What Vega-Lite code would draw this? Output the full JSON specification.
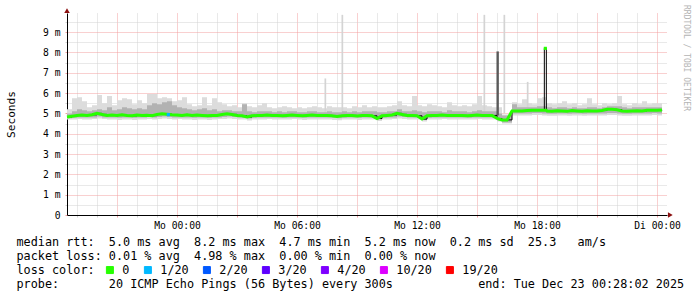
{
"$schema": "https://vega.github.io/schema/vega-lite/v6.json",
"width": 600, "height": 202,
"autosize": "none",
"padding": {"left": 67, "top": 13, "right": 30, "bottom": 82},
"background": "white",
"config": {"view": {"stroke": null}, "font": "DejaVu Sans Mono"},
"title": {"text": "RRDTOOL / TOBI OETIKER", "orient": "right", "anchor": "start", "frame": "group", "font": "DejaVu Sans Mono", "fontSize": 8, "fontWeight": "normal", "color": "#b4b4b4", "offset": -2, "dx": -8},
"resolve": {"axis": {"x": "independent", "y": "independent"}},
"datasets": {
"ping": [
{"t":"2025-12-21T18:30","m":4.82,"lo":4.7,"hi":5.2,"c":4.76,"d":5.0,"loss":"0"},
{"t":"2025-12-21T18:45","m":4.86,"lo":4.7,"hi":5.75,"c":4.78,"d":5.1,"loss":"0"},
{"t":"2025-12-21T19:00","m":4.9,"lo":4.72,"hi":5.8,"c":4.8,"d":5.2,"loss":"0"},
{"t":"2025-12-21T19:15","m":4.92,"lo":4.7,"hi":5.6,"c":4.8,"d":5.15,"loss":"0"},
{"t":"2025-12-21T19:30","m":4.9,"lo":4.7,"hi":5.3,"c":4.8,"d":5.1,"loss":"0"},
{"t":"2025-12-21T19:45","m":4.93,"lo":4.72,"hi":5.4,"c":4.8,"d":5.15,"loss":"0"},
{"t":"2025-12-21T20:00","m":5.0,"lo":4.75,"hi":5.9,"c":4.85,"d":5.2,"loss":"0"},
{"t":"2025-12-21T20:15","m":4.95,"lo":4.72,"hi":5.5,"c":4.8,"d":5.15,"loss":"0"},
{"t":"2025-12-21T20:30","m":4.9,"lo":4.7,"hi":5.85,"c":4.8,"d":5.3,"loss":"0"},
{"t":"2025-12-21T20:45","m":4.92,"lo":4.7,"hi":5.4,"c":4.8,"d":5.15,"loss":"0"},
{"t":"2025-12-21T21:00","m":4.9,"lo":4.68,"hi":5.65,"c":4.78,"d":5.2,"loss":"0"},
{"t":"2025-12-21T21:15","m":4.93,"lo":4.7,"hi":5.75,"c":4.8,"d":5.3,"loss":"0"},
{"t":"2025-12-21T21:30","m":4.9,"lo":4.7,"hi":5.7,"c":4.8,"d":5.25,"loss":"0"},
{"t":"2025-12-21T21:45","m":4.88,"lo":4.68,"hi":5.45,"c":4.78,"d":5.2,"loss":"0"},
{"t":"2025-12-21T22:00","m":4.92,"lo":4.7,"hi":5.65,"c":4.8,"d":5.25,"loss":"0"},
{"t":"2025-12-21T22:15","m":4.9,"lo":4.7,"hi":5.5,"c":4.8,"d":5.2,"loss":"0"},
{"t":"2025-12-21T22:30","m":4.91,"lo":4.72,"hi":5.95,"c":4.82,"d":5.4,"loss":"0"},
{"t":"2025-12-21T22:45","m":4.89,"lo":4.7,"hi":5.95,"c":4.8,"d":5.5,"loss":"0"},
{"t":"2025-12-21T23:00","m":4.95,"lo":4.72,"hi":5.75,"c":4.82,"d":5.45,"loss":"0"},
{"t":"2025-12-21T23:15","m":4.98,"lo":4.75,"hi":5.8,"c":4.85,"d":5.55,"loss":"0"},
{"t":"2025-12-21T23:30","m":4.96,"lo":4.72,"hi":5.75,"c":4.82,"d":5.6,"loss":"0"},
{"t":"2025-12-21T23:45","m":4.93,"lo":4.7,"hi":5.6,"c":4.8,"d":5.4,"loss":"0"},
{"t":"2025-12-22T00:00","m":4.92,"lo":4.72,"hi":5.65,"c":4.8,"d":5.3,"loss":"0"},
{"t":"2025-12-22T00:15","m":4.9,"lo":4.7,"hi":5.8,"c":4.8,"d":5.25,"loss":"0"},
{"t":"2025-12-22T00:30","m":4.93,"lo":4.7,"hi":5.45,"c":4.8,"d":5.2,"loss":"0"},
{"t":"2025-12-22T00:45","m":4.9,"lo":4.68,"hi":5.35,"c":4.78,"d":5.15,"loss":"0"},
{"t":"2025-12-22T01:00","m":4.92,"lo":4.7,"hi":5.4,"c":4.8,"d":5.2,"loss":"0"},
{"t":"2025-12-22T01:15","m":4.9,"lo":4.7,"hi":5.8,"c":4.8,"d":5.25,"loss":"0"},
{"t":"2025-12-22T01:30","m":4.88,"lo":4.68,"hi":5.4,"c":4.78,"d":5.15,"loss":"0"},
{"t":"2025-12-22T01:45","m":4.9,"lo":4.7,"hi":5.75,"c":4.8,"d":5.2,"loss":"0"},
{"t":"2025-12-22T02:00","m":4.9,"lo":4.72,"hi":5.55,"c":4.8,"d":5.1,"loss":"0"},
{"t":"2025-12-22T02:15","m":4.95,"lo":4.72,"hi":5.45,"c":4.82,"d":5.15,"loss":"0"},
{"t":"2025-12-22T02:30","m":4.98,"lo":4.75,"hi":5.35,"c":4.85,"d":5.15,"loss":"0"},
{"t":"2025-12-22T02:45","m":4.95,"lo":4.72,"hi":5.4,"c":4.82,"d":5.1,"loss":"0"},
{"t":"2025-12-22T03:00","m":4.9,"lo":4.7,"hi":5.3,"c":4.8,"d":5.1,"loss":"0"},
{"t":"2025-12-22T03:15","m":4.88,"lo":4.7,"hi":5.5,"c":4.78,"d":5.45,"loss":"0"},
{"t":"2025-12-22T03:30","m":4.82,"lo":4.65,"hi":5.35,"c":4.75,"d":5.1,"loss":"0"},
{"t":"2025-12-22T03:45","m":4.88,"lo":4.7,"hi":5.3,"c":4.78,"d":5.05,"loss":"0"},
{"t":"2025-12-22T04:00","m":4.9,"lo":4.7,"hi":5.4,"c":4.8,"d":5.1,"loss":"0"},
{"t":"2025-12-22T04:15","m":4.9,"lo":4.7,"hi":5.5,"c":4.8,"d":5.1,"loss":"0"},
{"t":"2025-12-22T04:30","m":4.92,"lo":4.72,"hi":5.3,"c":4.8,"d":5.1,"loss":"0"},
{"t":"2025-12-22T04:45","m":4.9,"lo":4.7,"hi":5.25,"c":4.8,"d":5.05,"loss":"0"},
{"t":"2025-12-22T05:00","m":4.9,"lo":4.7,"hi":5.3,"c":4.8,"d":5.1,"loss":"0"},
{"t":"2025-12-22T05:15","m":4.88,"lo":4.7,"hi":5.35,"c":4.78,"d":5.05,"loss":"0"},
{"t":"2025-12-22T05:30","m":4.9,"lo":4.7,"hi":5.3,"c":4.8,"d":5.1,"loss":"0"},
{"t":"2025-12-22T05:45","m":4.92,"lo":4.72,"hi":5.25,"c":4.8,"d":5.1,"loss":"0"},
{"t":"2025-12-22T06:00","m":4.9,"lo":4.7,"hi":5.3,"c":4.8,"d":5.05,"loss":"0"},
{"t":"2025-12-22T06:15","m":4.88,"lo":4.68,"hi":5.25,"c":4.78,"d":5.05,"loss":"0"},
{"t":"2025-12-22T06:30","m":4.9,"lo":4.7,"hi":5.3,"c":4.8,"d":5.1,"loss":"0"},
{"t":"2025-12-22T06:45","m":4.92,"lo":4.7,"hi":5.35,"c":4.8,"d":5.1,"loss":"0"},
{"t":"2025-12-22T07:00","m":4.9,"lo":4.7,"hi":5.3,"c":4.8,"d":5.05,"loss":"0"},
{"t":"2025-12-22T07:15","m":4.9,"lo":4.7,"hi":5.25,"c":4.8,"d":5.05,"loss":"0"},
{"t":"2025-12-22T07:30","m":4.9,"lo":4.7,"hi":5.35,"c":4.8,"d":5.1,"loss":"0"},
{"t":"2025-12-22T07:45","m":4.88,"lo":4.68,"hi":5.3,"c":4.78,"d":5.05,"loss":"0"},
{"t":"2025-12-22T08:00","m":4.85,"lo":4.66,"hi":5.3,"c":4.76,"d":5.05,"loss":"0"},
{"t":"2025-12-22T08:15","m":4.88,"lo":4.7,"hi":5.3,"c":4.78,"d":5.1,"loss":"0"},
{"t":"2025-12-22T08:30","m":4.9,"lo":4.7,"hi":5.25,"c":4.8,"d":5.05,"loss":"0"},
{"t":"2025-12-22T08:45","m":4.9,"lo":4.7,"hi":5.35,"c":4.8,"d":5.1,"loss":"0"},
{"t":"2025-12-22T09:00","m":4.87,"lo":4.68,"hi":5.3,"c":4.78,"d":5.05,"loss":"0"},
{"t":"2025-12-22T09:15","m":4.9,"lo":4.7,"hi":5.4,"c":4.8,"d":5.1,"loss":"0"},
{"t":"2025-12-22T09:30","m":4.9,"lo":4.7,"hi":5.3,"c":4.8,"d":5.1,"loss":"0"},
{"t":"2025-12-22T09:45","m":4.88,"lo":4.7,"hi":5.35,"c":4.78,"d":5.1,"loss":"0"},
{"t":"2025-12-22T10:00","m":4.75,"lo":4.62,"hi":5.3,"c":4.7,"d":5.05,"loss":"0"},
{"t":"2025-12-22T10:15","m":4.88,"lo":4.7,"hi":5.3,"c":4.78,"d":5.05,"loss":"0"},
{"t":"2025-12-22T10:30","m":4.9,"lo":4.7,"hi":5.35,"c":4.8,"d":5.1,"loss":"0"},
{"t":"2025-12-22T10:45","m":4.92,"lo":4.72,"hi":5.4,"c":4.8,"d":5.1,"loss":"0"},
{"t":"2025-12-22T11:00","m":5.0,"lo":4.75,"hi":5.6,"c":4.85,"d":5.2,"loss":"0"},
{"t":"2025-12-22T11:15","m":4.95,"lo":4.72,"hi":5.4,"c":4.82,"d":5.1,"loss":"0"},
{"t":"2025-12-22T11:30","m":4.9,"lo":4.7,"hi":5.35,"c":4.8,"d":5.1,"loss":"0"},
{"t":"2025-12-22T11:45","m":4.9,"lo":4.7,"hi":5.85,"c":4.8,"d":5.15,"loss":"0"},
{"t":"2025-12-22T12:00","m":4.88,"lo":4.7,"hi":5.4,"c":4.78,"d":5.1,"loss":"0"},
{"t":"2025-12-22T12:15","m":4.72,"lo":4.6,"hi":5.35,"c":4.68,"d":5.05,"loss":"0"},
{"t":"2025-12-22T12:30","m":4.88,"lo":4.7,"hi":5.45,"c":4.78,"d":5.1,"loss":"0"},
{"t":"2025-12-22T12:45","m":4.9,"lo":4.7,"hi":5.4,"c":4.8,"d":5.1,"loss":"0"},
{"t":"2025-12-22T13:00","m":4.9,"lo":4.7,"hi":5.35,"c":4.8,"d":5.1,"loss":"0"},
{"t":"2025-12-22T13:15","m":4.92,"lo":4.72,"hi":5.3,"c":4.8,"d":5.05,"loss":"0"},
{"t":"2025-12-22T13:30","m":4.9,"lo":4.7,"hi":5.55,"c":4.8,"d":5.15,"loss":"0"},
{"t":"2025-12-22T13:45","m":4.9,"lo":4.7,"hi":5.4,"c":4.8,"d":5.1,"loss":"0"},
{"t":"2025-12-22T14:00","m":4.9,"lo":4.7,"hi":5.35,"c":4.8,"d":5.1,"loss":"0"},
{"t":"2025-12-22T14:15","m":4.9,"lo":4.7,"hi":5.4,"c":4.8,"d":5.1,"loss":"0"},
{"t":"2025-12-22T14:30","m":4.88,"lo":4.7,"hi":5.35,"c":4.78,"d":5.05,"loss":"0"},
{"t":"2025-12-22T14:45","m":4.9,"lo":4.7,"hi":5.45,"c":4.8,"d":5.1,"loss":"0"},
{"t":"2025-12-22T15:00","m":4.92,"lo":4.72,"hi":5.85,"c":4.8,"d":5.15,"loss":"0"},
{"t":"2025-12-22T15:15","m":4.9,"lo":4.7,"hi":5.4,"c":4.8,"d":5.1,"loss":"0"},
{"t":"2025-12-22T15:30","m":4.9,"lo":4.7,"hi":5.35,"c":4.8,"d":5.1,"loss":"0"},
{"t":"2025-12-22T15:45","m":4.9,"lo":4.7,"hi":5.3,"c":4.8,"d":5.1,"loss":"0"},
{"t":"2025-12-22T16:00","m":4.75,"lo":4.6,"hi":5.3,"c":4.65,"d":5.0,"loss":"0"},
{"t":"2025-12-22T16:15","m":4.68,"lo":4.5,"hi":4.95,"c":4.55,"d":4.9,"loss":"0"},
{"t":"2025-12-22T16:30","m":4.68,"lo":4.5,"hi":4.95,"c":4.55,"d":4.9,"loss":"0"},
{"t":"2025-12-22T16:45","m":5.12,"lo":4.9,"hi":5.55,"c":5.0,"d":5.45,"loss":"0"},
{"t":"2025-12-22T17:00","m":5.12,"lo":4.9,"hi":5.45,"c":5.0,"d":5.3,"loss":"0"},
{"t":"2025-12-22T17:15","m":5.12,"lo":4.9,"hi":5.7,"c":5.0,"d":5.3,"loss":"0"},
{"t":"2025-12-22T17:30","m":5.14,"lo":4.9,"hi":5.5,"c":5.0,"d":5.3,"loss":"0"},
{"t":"2025-12-22T17:45","m":5.16,"lo":4.92,"hi":5.45,"c":5.02,"d":5.3,"loss":"0"},
{"t":"2025-12-22T18:00","m":5.16,"lo":4.92,"hi":5.75,"c":5.02,"d":5.35,"loss":"0"},
{"t":"2025-12-22T18:15","m":5.15,"lo":4.9,"hi":5.8,"c":5.0,"d":5.35,"loss":"0"},
{"t":"2025-12-22T18:22","m":8.2,"lo":4.9,"hi":5.8,"c":5.0,"d":5.35,"loss":"0"},
{"t":"2025-12-22T18:28","m":5.15,"lo":4.9,"hi":5.5,"c":5.0,"d":5.3,"loss":"0"},
{"t":"2025-12-22T18:30","m":5.12,"lo":4.88,"hi":5.5,"c":4.98,"d":5.3,"loss":"0"},
{"t":"2025-12-22T18:45","m":5.1,"lo":4.88,"hi":5.45,"c":4.98,"d":5.25,"loss":"0"},
{"t":"2025-12-22T19:00","m":5.13,"lo":4.9,"hi":5.5,"c":5.0,"d":5.3,"loss":"0"},
{"t":"2025-12-22T19:15","m":5.12,"lo":4.9,"hi":5.6,"c":5.0,"d":5.3,"loss":"0"},
{"t":"2025-12-22T19:30","m":5.1,"lo":4.88,"hi":5.45,"c":4.98,"d":5.25,"loss":"0"},
{"t":"2025-12-22T19:45","m":5.14,"lo":4.9,"hi":5.5,"c":5.0,"d":5.3,"loss":"0"},
{"t":"2025-12-22T20:00","m":5.12,"lo":4.9,"hi":5.4,"c":5.0,"d":5.25,"loss":"0"},
{"t":"2025-12-22T20:15","m":5.1,"lo":4.88,"hi":5.45,"c":4.98,"d":5.25,"loss":"0"},
{"t":"2025-12-22T20:30","m":5.13,"lo":4.9,"hi":5.75,"c":5.0,"d":5.3,"loss":"0"},
{"t":"2025-12-22T20:45","m":5.12,"lo":4.9,"hi":5.45,"c":5.0,"d":5.3,"loss":"0"},
{"t":"2025-12-22T21:00","m":5.12,"lo":4.9,"hi":5.4,"c":5.0,"d":5.25,"loss":"0"},
{"t":"2025-12-22T21:15","m":5.14,"lo":4.9,"hi":5.5,"c":5.0,"d":5.3,"loss":"0"},
{"t":"2025-12-22T21:30","m":5.2,"lo":4.92,"hi":5.45,"c":5.02,"d":5.35,"loss":"0"},
{"t":"2025-12-22T21:45","m":5.2,"lo":4.92,"hi":5.5,"c":5.02,"d":5.35,"loss":"0"},
{"t":"2025-12-22T22:00","m":5.18,"lo":4.9,"hi":5.85,"c":5.0,"d":5.35,"loss":"0"},
{"t":"2025-12-22T22:15","m":5.12,"lo":4.88,"hi":5.45,"c":4.98,"d":5.3,"loss":"0"},
{"t":"2025-12-22T22:30","m":5.1,"lo":4.88,"hi":5.4,"c":4.98,"d":5.25,"loss":"0"},
{"t":"2025-12-22T22:45","m":5.12,"lo":4.9,"hi":5.5,"c":5.0,"d":5.3,"loss":"0"},
{"t":"2025-12-22T23:00","m":5.13,"lo":4.9,"hi":5.45,"c":5.0,"d":5.3,"loss":"0"},
{"t":"2025-12-22T23:15","m":5.12,"lo":4.9,"hi":5.6,"c":5.0,"d":5.3,"loss":"0"},
{"t":"2025-12-22T23:30","m":5.15,"lo":4.9,"hi":5.45,"c":5.0,"d":5.3,"loss":"0"},
{"t":"2025-12-22T23:45","m":5.16,"lo":4.92,"hi":5.5,"c":5.02,"d":5.3,"loss":"0"},
{"t":"2025-12-23T00:00","m":5.15,"lo":4.9,"hi":5.5,"c":5.0,"d":5.3,"loss":"0"},
{"t":"2025-12-23T00:15","m":5.17,"lo":4.92,"hi":5.45,"c":5.02,"d":5.3,"loss":"0"}
],
"spikes": [
{"t":"2025-12-22T07:25","top":6.72,"base":5.0,"shade":"light"},
{"t":"2025-12-22T08:16","top":9.85,"base":5.0,"shade":"light"},
{"t":"2025-12-22T15:22","top":9.85,"base":5.0,"shade":"light"},
{"t":"2025-12-22T16:22","top":9.85,"base":5.0,"shade":"light"},
{"t":"2025-12-22T17:32","top":6.55,"base":5.1,"shade":"light"},
{"t":"2025-12-22T16:02","top":8.05,"base":4.9,"shade":"dark"}
],
"dots": [
{"t":"2025-12-21T23:34","m":4.94,"loss":"1/20"},
{"t":"2025-12-22T18:25","m":8.2,"loss":"0"}
]
},
"layer": [
{"data": {"name": "ping"}, "mark": {"type": "area", "interpolate": "step-after", "color": "#dcdcdc"},
 "encoding": {
  "x": {"field": "t", "type": "temporal",
   "scale": {"domain": [{"year":2025,"month":12,"date":21,"hours":18,"minutes":30},{"year":2025,"month":12,"date":23,"hours":0,"minutes":30}], "nice": false},
   "axis": {"tickCount": 30, "grid": true,
    "gridColor": {"condition": {"test": "hours(datum.value) % 3 == 0", "value": "#f2a0a0"}, "value": "#d2d2d2"},
    "gridDash": [1,1], "gridWidth": 1,
    "domainColor": "black", "domainWidth": 1,
    "ticks": true, "tickSize": 2, "tickWidth": 1,
    "tickColor": {"condition": {"test": "hours(datum.value) % 3 == 0", "value": "#f2a0a0"}, "value": "#d2d2d2"},
    "labelExpr": "hours(datum.value) % 6 == 0 ? (day(datum.value) == 1 ? 'Mo ' : day(datum.value) == 2 ? 'Di ' : 'So ') + timeFormat(datum.value, '%H:%M') : ''",
    "labelFont": "DejaVu Sans Mono", "labelFontSize": 9.7, "labelColor": "black", "labelPadding": 3, "labelOverlap": false, "labelFlush": false,
    "title": ["median\u00a0rtt:\u00a0\u00a05.0\u00a0ms\u00a0avg\u00a0\u00a08.2\u00a0ms\u00a0max\u00a0\u00a04.7\u00a0ms\u00a0min\u00a0\u00a05.2\u00a0ms\u00a0now\u00a0\u00a00.2\u00a0ms\u00a0sd\u00a0\u00a025.3\u00a0\u00a0\u00a0am/s",
              "packet\u00a0loss:\u00a00.01\u00a0%\u00a0avg\u00a0\u00a04.98\u00a0%\u00a0max\u00a0\u00a00.00\u00a0%\u00a0min\u00a0\u00a00.00\u00a0%\u00a0now",
              "loss\u00a0color:",
              "probe:\u00a0\u00a0\u00a0\u00a0\u00a0\u00a0\u00a020\u00a0ICMP\u00a0Echo\u00a0Pings\u00a0(56\u00a0Bytes)\u00a0every\u00a0300s\u00a0\u00a0\u00a0\u00a0\u00a0\u00a0\u00a0\u00a0\u00a0\u00a0\u00a0\u00a0end:\u00a0Tue\u00a0Dec\u00a023\u00a000:28:02\u00a02025"],
    "titleFont": "DejaVu Sans Mono", "titleFontSize": 11.8, "titleFontWeight": "normal", "titleColor": "black",
    "titleAnchor": "start", "titleAlign": "left", "titleX": -51, "titleY": 30, "titleBaseline": "alphabetic", "titleLineHeight": 14, "titleLimit": 1000}},
  "y": {"field": "lo", "type": "quantitative", "scale": {"domain": [0, 9.94], "nice": false, "zero": false},
   "axis": {"values": [0,0.5,1,1.5,2,2.5,3,3.5,4,4.5,5,5.5,6,6.5,7,7.5,8,8.5,9,9.5], "grid": true,
    "gridColor": {"condition": {"test": "datum.value % 1 == 0", "value": "#f2a0a0"}, "value": "#d2d2d2"},
    "gridDash": [1,1], "gridWidth": 1, "domainColor": "black", "domainWidth": 1,
    "ticks": true, "tickSize": 2, "tickColor": {"condition": {"test": "datum.value % 1 == 0", "value": "#f2a0a0"}, "value": "#d2d2d2"},
    "labelExpr": "datum.value % 1 == 0 ? (datum.value == 0 ? '0' : datum.value + ' m') : ''",
    "labelFont": "DejaVu Sans Mono", "labelFontSize": 9.7, "labelColor": "black", "labelPadding": 5, "labelOverlap": false, "labelFlush": false,
    "title": "Seconds", "titleFont": "DejaVu Sans Mono", "titleFontSize": 11.1, "titleFontWeight": "normal", "titleColor": "black",
    "titleX": -56, "titleY": 101, "titleBaseline": "middle", "titleAnchor": "middle"}},
  "y2": {"field": "hi"}}},
{"data": {"name": "spikes"}, "transform": [{"filter": "datum.shade == 'light'"}],
 "mark": {"type": "rule", "color": "#d4d4d4", "strokeWidth": 1.7},
 "encoding": {"x": {"field": "t", "type": "temporal", "axis": null}, "y": {"field": "top", "type": "quantitative", "axis": null}, "y2": {"field": "base"}}},
{"data": {"name": "ping"}, "mark": {"type": "area", "interpolate": "step-after", "color": "#b2b2b2"},
 "encoding": {"x": {"field": "t", "type": "temporal", "axis": null}, "y": {"field": "c", "type": "quantitative", "axis": null}, "y2": {"field": "d"}}},
{"data": {"name": "spikes"}, "transform": [{"filter": "datum.shade == 'dark'"}],
 "mark": {"type": "rule", "color": "#5a5a5a", "strokeWidth": 2.4},
 "encoding": {"x": {"field": "t", "type": "temporal", "axis": null}, "y": {"field": "top", "type": "quantitative", "axis": null}, "y2": {"field": "base"}}},
{"data": {"name": "ping"}, "mark": {"type": "line", "interpolate": "step-after", "color": "black", "strokeWidth": 1},
 "encoding": {"x": {"field": "t", "type": "temporal", "axis": null}, "y": {"field": "m", "type": "quantitative", "axis": null}}},
{"data": {"name": "ping"}, "transform": [{"filter": "datum.m < 8"}],
 "mark": {"type": "line", "strokeWidth": 3},
 "encoding": {"x": {"field": "t", "type": "temporal", "axis": null}, "y": {"field": "m", "type": "quantitative", "axis": null},
  "color": {"field": "loss", "type": "nominal",
   "scale": {"domain": ["0","1/20","2/20","3/20","4/20","10/20","19/20"], "range": ["#26ff00","#00b8ff","#0059ff","#5e00ff","#7e00ff","#dd00ff","#ff0000"]},
   "legend": {"orient": "none", "legendX": 37, "legendY": 251, "direction": "horizontal", "title": null,
    "labelFont": "DejaVu Sans Mono", "labelFontSize": 11.8, "labelColor": "black", "labelOffset": 6.5, "columnPadding": 12,
    "symbolType": "square", "symbolSize": 49, "symbolStrokeWidth": 1, "symbolOpacity": 1, "symbolStrokeColor": "black",
    "encode": {"symbols": {"update": {"stroke": {"value": "black"}, "strokeWidth": {"value": 1}}}}}}}},
{"data": {"name": "dots"}, "mark": {"type": "point", "shape": "square", "filled": true, "size": 10, "opacity": 1},
 "encoding": {"x": {"field": "t", "type": "temporal", "axis": null}, "y": {"field": "m", "type": "quantitative", "axis": null},
  "color": {"field": "loss", "type": "nominal"}}},
{"data": {"values": [{}]}, "mark": {"type": "point", "shape": "triangle-up", "filled": true, "color": "#8b1010", "size": 30, "opacity": 1},
 "encoding": {"x": {"datum": {"year":2025,"month":12,"date":21,"hours":18,"minutes":30}, "type": "temporal", "axis": null}, "y": {"datum": 10.06, "type": "quantitative", "axis": null}}},
{"data": {"values": [{}]}, "mark": {"type": "point", "shape": "triangle-right", "filled": true, "color": "#8b1010", "size": 30, "opacity": 1},
 "encoding": {"x": {"datum": {"year":2025,"month":12,"date":23,"hours":0,"minutes":40}, "type": "temporal", "axis": null}, "y": {"datum": 0, "type": "quantitative", "axis": null}}}
]
}
